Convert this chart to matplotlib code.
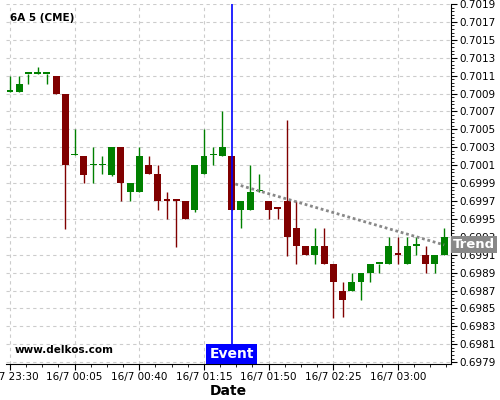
import numpy as np
import matplotlib
matplotlib.use("Agg")
import matplotlib.pyplot as plt
from matplotlib.ticker import AutoMinorLocator, FixedLocator, FormatStrFormatter

# 5-minute candles, 15/7 23:30 .. 16/7 03:25
opens = [0.70092, 0.70092, 0.70112, 0.70112, 0.70112, 0.70110, 0.70090, 0.70021,
         0.70020, 0.70010, 0.70010, 0.69999, 0.70030, 0.69980, 0.69980, 0.70010,
         0.70000, 0.69971, 0.69971, 0.69970, 0.69960, 0.70000, 0.70021, 0.70020,
         0.70020, 0.69960, 0.69960, 0.69981, 0.69970, 0.69962, 0.69970, 0.69940,
         0.69920, 0.69910, 0.69920, 0.69900, 0.69870, 0.69870, 0.69880, 0.69890,
         0.69900, 0.69900, 0.69911, 0.69900, 0.69920, 0.69910, 0.69900, 0.69910]
highs = [0.70110, 0.70110, 0.70112, 0.70120, 0.70112, 0.70110, 0.70090, 0.70050,
         0.70020, 0.70030, 0.70020, 0.70030, 0.70030, 0.69990, 0.70030, 0.70020,
         0.70010, 0.69980, 0.69971, 0.69970, 0.70010, 0.70050, 0.70030, 0.70070,
         0.70020, 0.69970, 0.70010, 0.70000, 0.69970, 0.69962, 0.70060, 0.69970,
         0.69920, 0.69940, 0.69940, 0.69900, 0.69880, 0.69890, 0.69890, 0.69900,
         0.69900, 0.69930, 0.69930, 0.69930, 0.69930, 0.69920, 0.69910, 0.69940]
lows = [0.70092, 0.70092, 0.70101, 0.70112, 0.70101, 0.70090, 0.69939, 0.70021,
        0.69990, 0.69990, 0.70000, 0.69998, 0.69970, 0.69970, 0.69980, 0.70000,
        0.69960, 0.69950, 0.69919, 0.69950, 0.69958, 0.70000, 0.70010, 0.70020,
        0.69960, 0.69940, 0.69960, 0.69980, 0.69950, 0.69950, 0.69909, 0.69900,
        0.69910, 0.69900, 0.69900, 0.69839, 0.69840, 0.69870, 0.69860, 0.69880,
        0.69890, 0.69900, 0.69900, 0.69900, 0.69910, 0.69890, 0.69890, 0.69910]
closes = [0.70092, 0.70101, 0.70112, 0.70112, 0.70112, 0.70090, 0.70010, 0.70021,
          0.69999, 0.70010, 0.70010, 0.70030, 0.69990, 0.69990, 0.70020, 0.70000,
          0.69970, 0.69970, 0.69970, 0.69950, 0.70010, 0.70020, 0.70021, 0.70030,
          0.69960, 0.69970, 0.69980, 0.69981, 0.69960, 0.69961, 0.69930, 0.69920,
          0.69910, 0.69920, 0.69900, 0.69880, 0.69860, 0.69880, 0.69890, 0.69900,
          0.69900, 0.69920, 0.69910, 0.69920, 0.69920, 0.69900, 0.69910, 0.69930]

tick_labels = ["15/7 23:30", "16/7 00:05", "16/7 00:40", "16/7 01:15",
               "16/7 01:50", "16/7 02:25", "16/7 03:00"]
price_ticks = [0.6979, 0.6981, 0.6983, 0.6985, 0.6987, 0.6989, 0.6991, 0.6993,
               0.6995, 0.6997, 0.6999, 0.7001, 0.7003, 0.7005, 0.7007, 0.7009,
               0.7011, 0.7013, 0.7015, 0.7017, 0.7019]
event_idx = 24          # 16/7 01:30
trend_x = [24.4, 47]
trend_y = [0.69989, 0.69921]

green = "#008000"
red = "#800000"

fig = plt.figure(figsize=(5, 4), dpi=100)
ax = fig.add_axes([0.012, 0.09, 0.89, 0.9])

x = np.arange(len(opens))
o = np.array(opens); c = np.array(closes)
h = np.array(highs); l = np.array(lows)
up = c >= o
cols = np.where(up, green, red)

ax.vlines(x, l, h, colors=cols, linewidth=1, zorder=3)
body_lo = np.minimum(o, c)
body_h = np.maximum(np.abs(c - o), 0.000018)
ax.bar(x, body_h, bottom=body_lo, width=0.75, color=cols, linewidth=0, zorder=4)

ax.axvline(event_idx, color="#0000ff", linewidth=1.2, zorder=5)
ax.plot(trend_x, trend_y, color="#888888", linewidth=2, linestyle=(0, (1, 1)), zorder=6)

ax.set_xlim(-0.43, 47.74)
ax.set_ylim(0.69788, 0.7019)

ax.yaxis.tick_right()
ax.yaxis.set_major_locator(FixedLocator(price_ticks))
ax.yaxis.set_minor_locator(AutoMinorLocator(5))
ax.yaxis.set_major_formatter(FormatStrFormatter("%.4f"))
ax.xaxis.set_major_locator(FixedLocator(np.arange(0, 43, 7)))
ax.set_xticklabels(tick_labels)
ax.xaxis.set_minor_locator(AutoMinorLocator(4))
ax.tick_params(axis="both", which="major", labelsize=7.5, length=4, pad=2)
ax.tick_params(axis="both", which="minor", length=2)

for s in ["top", "left"]:
    ax.spines[s].set_visible(False)
ax.grid(True, which="major", color="#cccccc", linestyle=(0, (3, 3)), linewidth=0.8)
ax.set_axisbelow(True)

ax.set_xlabel("Date", fontsize=10, fontweight="bold", labelpad=1)

ax.text(0.01, 0.975, "6A 5 (CME)", transform=ax.transAxes, fontsize=7.5,
        fontweight="bold", va="top", ha="left")
ax.text(0.02, 0.025, "www.delkos.com", transform=ax.transAxes, fontsize=7.5,
        fontweight="bold", va="bottom", ha="left")
ax.text(event_idx, 0.69791, "Event", fontsize=10, fontweight="bold", color="white",
        ha="center", va="bottom", zorder=7,
        bbox=dict(boxstyle="square,pad=0.22", fc="#0000ff", ec="none"))
ax.text(1.005, (trend_y[1] - 0.69788) / (0.7019 - 0.69788), "Trend",
        transform=ax.transAxes, fontsize=9.5, fontweight="bold", color="white",
        ha="left", va="center", zorder=7, clip_on=False,
        bbox=dict(boxstyle="square,pad=0.15", fc="#888888", ec="none"))

fig.savefig("out.png", dpi=100)
